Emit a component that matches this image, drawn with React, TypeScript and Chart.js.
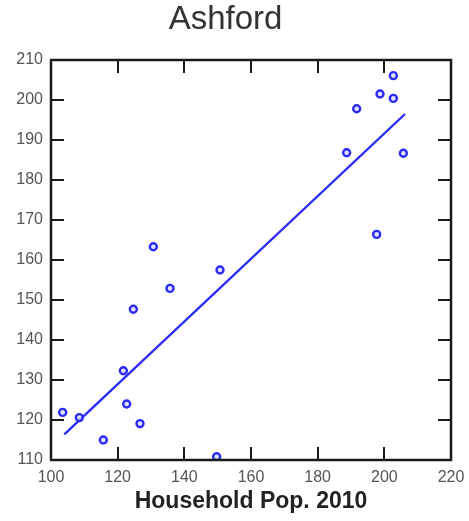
import React, { useEffect, useRef } from "react";
import { Chart, registerables } from "chart.js";

Chart.register(...registerables);

const titleText = "Ashford";
const xAxisTitle = "Household Pop. 2010";
const popX = [130.7, 150.7, 202.7, 198.7, 202.7, 191.7, 188.7, 205.7, 197.7, 135.7, 124.7, 121.7, 122.7, 103.5, 108.5, 126.7, 115.7, 149.7];
const valueY = [163.3, 157.5, 206.1, 201.5, 200.4, 197.8, 186.8, 186.7, 166.4, 152.9, 147.7, 132.3, 124.0, 121.9, 120.6, 119.1, 115.0, 110.8];
const fitX = [104, 206.2];
const fitY = [116.4, 196.5];
const xTicks = [100, 120, 140, 160, 180, 200, 220];
const yTicks = [110, 120, 130, 140, 150, 160, 170, 180, 190, 200, 210];

const BLUE = "#2b2bf5";
const FONT = "Liberation Sans, Arial, sans-serif";

const frameTicks = {
  id: "frameTicks",
  afterDraw(chart: any) {
    const { ctx, chartArea } = chart;
    const { left, right, top, bottom } = chartArea;
    const xs = chart.scales.x;
    const ys = chart.scales.y;
    const len = 13;
    ctx.save();
    ctx.strokeStyle = "#1a1a1a";
    ctx.lineWidth = 2;
    ctx.beginPath();
    xTicks.slice(1, -1).forEach((v) => {
      const px = Math.round(xs.getPixelForValue(v));
      ctx.moveTo(px, top);
      ctx.lineTo(px, top + len);
      ctx.moveTo(px, bottom);
      ctx.lineTo(px, bottom - len);
    });
    yTicks.slice(1, -1).forEach((v) => {
      const py = Math.round(ys.getPixelForValue(v));
      ctx.moveTo(left, py);
      ctx.lineTo(left + len, py);
      ctx.moveTo(right, py);
      ctx.lineTo(right - len, py);
    });
    ctx.stroke();
    ctx.lineWidth = 2.5;
    ctx.strokeRect(left, top, right - left, bottom - top);
    ctx.restore();
  },
};

export default function App() {
  const ref = useRef<HTMLCanvasElement>(null);
  useEffect(() => {
    document.body.style.margin = "0";
    const chart = new Chart(ref.current!, {
      type: "scatter",
      data: {
        datasets: [
          {
            type: "scatter",
            data: popX.map((x, i) => ({ x, y: valueY[i] })),
            pointRadius: 3.5,
            pointBorderWidth: 2.4,
            borderColor: BLUE,
            backgroundColor: "rgba(215,215,255,0.7)",
            pointHoverRadius: 3.5,
          },
          {
            type: "line",
            data: fitX.map((x, i) => ({ x, y: fitY[i] })),
            showLine: true,
            borderColor: BLUE,
            borderWidth: 2.4,
            pointRadius: 0,
            fill: false,
          } as any,
        ],
      },
      options: {
        animation: false,
        responsive: false,
        layout: { padding: { left: 0, right: 18, top: 0, bottom: 6 } },
        plugins: {
          legend: { display: false },
          tooltip: { enabled: false },
          title: {
            display: true,
            text: titleText,
            color: "#333333",
            font: { family: FONT, size: 33, weight: "normal" },
            padding: { top: 0, bottom: 20.4 },
          },
        },
        scales: {
          x: {
            type: "linear",
            min: 100,
            max: 220,
            afterBuildTicks: (s: any) => {
              s.ticks = xTicks.map((v) => ({ value: v }));
            },
            afterFit: (s: any) => {
              s.height = 55;
              s.paddingLeft = 0;
              s.paddingRight = 0;
            },
            grid: { display: false, drawTicks: false },
            border: { display: false },
            ticks: {
              color: "#555555",
              padding: 8,
              font: { family: FONT, size: 16 },
            },
            title: {
              display: true,
              text: xAxisTitle,
              color: "#222222",
              padding: { top: 0, bottom: 0 },
              font: { family: FONT, size: 23, weight: "bold" },
            },
          },
          y: {
            type: "linear",
            min: 110,
            max: 210,
            afterBuildTicks: (s: any) => {
              s.ticks = yTicks.map((v) => ({ value: v }));
            },
            afterFit: (s: any) => {
              s.width = 51;
              s.paddingTop = 0;
              s.paddingBottom = 0;
            },
            grid: { display: false, drawTicks: false },
            border: { display: false },
            ticks: {
              color: "#555555",
              padding: 8,
              font: { family: FONT, size: 16 },
            },
          },
        },
      },
      plugins: [frameTicks],
    });
    return () => chart.destroy();
  }, []);
  return (
    <div style={{ position: "absolute", left: 0, top: 0, width: 469, height: 521, background: "#fff" }}>
      <canvas ref={ref} width={469} height={521} style={{ width: 469, height: 521 }} />
    </div>
  );
}
